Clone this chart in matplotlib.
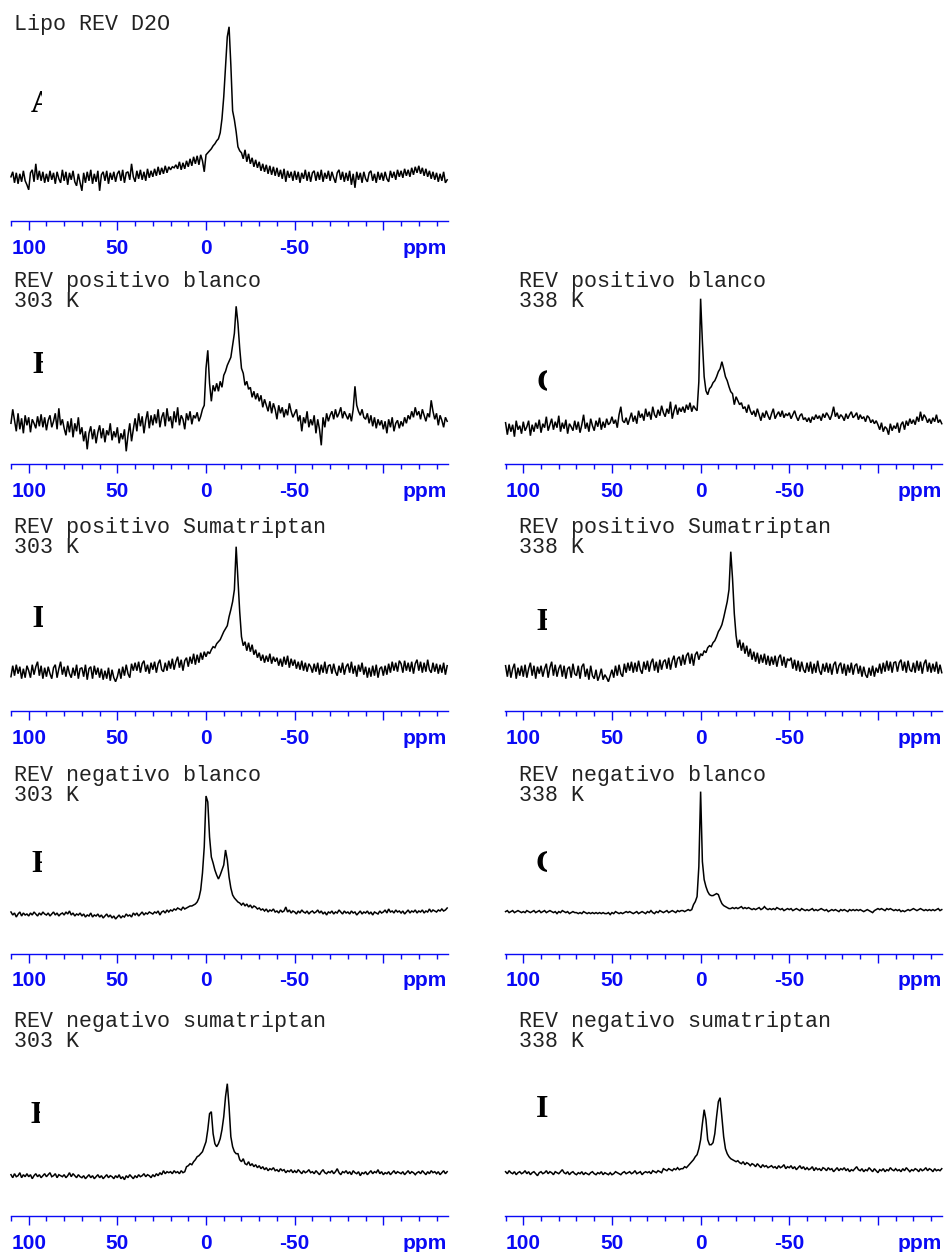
import numpy as np
import matplotlib
matplotlib.use("Agg")
import matplotlib.pyplot as plt
from matplotlib.transforms import Bbox

W, H, DPI = 944, 1252, 100

# ---------------- data (chemical shift grid, ppm) ----------------
ppm = np.arange(110, -137, -1)

spec_A = [
    0, 5, -6, 4, -7, 3, -5, 6, -4, -8,
    -13, 4, 7, -5, 13, -3, 6, -4, 5, -6,
    3, -5, 6, -3, 4, -7, 5, -2, -6, 7,
    -4, 5, -8, 4, -3, 6, -5, -9, 3, -6,
    -14, 4, -6, 5, -4, 7, -7, 3, -5, 6,
    -14, 2, 5, -4, 6, -7, 4, -3, 5, -5,
    3, 6, -4, 7, -6, 4, 5, -3, 13, 0,
    -5, 6, -2, 7, -3, 5, -4, 8, -1, 6,
    0, 8, 1, 10, 2, 9, 3, 11, 4, 10,
    7, 10, 9, 12, 8, 15, 7, 14, 8, 16,
    10, 18, 11, 20, 13, 21, 12, 22, 16, 5,
    22, 24, 26, 28, 31, 33, 36, 38, 44, 58,
    80, 110, 140, 150, 112, 66, 57, 45, 30, 26,
    24, 18, 27, 15, 23, 13, 19, 10, 17, 9,
    15, 6, 13, 5, 12, 3, 11, 2, 10, 1,
    9, 0, 7, -2, 8, -5, 6, -1, 5, -4,
    6, -3, 5, -6, 4, -2, 7, -4, 5, -5,
    4, 6, -4, 5, -3, 7, -5, 4, -2, 6,
    -4, 5, -1, -6, 4, 7, -3, 5, -5, 4,
    -4, 6, -8, 3, -11, 5, -3, 4, -6, 5,
    -2, -5, 4, 6, -4, 3, -6, 5, -3, 4,
    -4, 5, -2, -5, 6, -1, 5, -3, 7, 0,
    6, -1, 8, 1, 7, 0, 9, 2, 10, 4,
    11, 3, 9, 1, 8, 0, 6, -2, 5, -3,
    4, -5, 3, -4, 5, -6, -3]

spec_B = [
    0, 14, 3, -8, 10, -6, 5, -10, 8, -2,
    6, -9, 4, 0, -5, 7, -3, 9, -4, 6,
    -7, 3, 8, -4, 2, 10, -6, 15, -2, 4,
    -5, -12, 2, -9, 5, -14, 0, -8, 6, -11,
    -4, -18, -8, -26, -10, -3, -16, -6, -20, -9,
    -2, -15, -5, -19, -7, -12, 0, -17, -8, -14,
    -4, -20, -10, -16, -6, -28, -12, 0, -18, -6,
    5, -8, 10, -3, 7, -10, 3, 12, -5, 8,
    -2, 9, 0, 14, -4, 6, 11, -3, 15, 2,
    7, -5, 12, 1, 16, -2, 8, 4, -6, 10,
    3, 12, -1, 8, 5, 11, 2, 7, 14, 18,
    55, 73, 40, 22, 38, 32, 40, 32, 42, 36,
    48, 52, 58, 62, 66, 78, 90, 117, 100, 75,
    55, 50, 38, 42, 34, 36, 26, 32, 24, 30,
    22, 28, 16, 24, 18, 12, 22, 10, 20, 14,
    4, 18, 10, 16, 6, 14, 8, 20, 12, 6,
    10, 14, 2, 8, -8, 6, 0, 12, -4, 4,
    -2, 8, -10, 4, -6, -22, 6, -4, 10, 2,
    8, 12, 4, 14, 6, 10, 16, 5, 12, 8,
    4, 10, 2, 14, 37, 18, 12, 8, 14, 6,
    4, 10, 0, 8, -3, 6, -5, 4, -2, 3,
    -6, 2, -10, 4, -4, 6, -8, 0, 3, -5,
    2, -3, 6, 0, 8, 4, 12, 6, 16, 8,
    12, 4, 14, 8, 2, 10, 6, 23, 12, 4,
    10, -2, 8, 3, -4, 6, 2]

spec_C = [
    4, -8, 3, -5, 2, -10, 6, -3, 1, -7,
    5, -4, 0, 6, -9, 2, -5, 4, -2, 7,
    -6, 3, -1, 10, -4, 2, 8, -3, 5, -1,
    11, -5, 4, -2, 7, -7, 3, 0, -4, 6,
    -3, 5, -6, 2, 12, -2, 4, -5, 8, 1,
    -4, 6, 0, 9, -3, 5, -1, 8, 2, 4,
    10, 3, 7, -1, 12, 20, 6, 4, 9, 2,
    8, 14, 5, 11, 3, 16, 9, 13, 6, 18,
    10, 15, 7, 20, 12, 9, 17, 11, 21, 14,
    10, 18, 13, 25, 8, 16, 22, 12, 19, 15,
    20, 14, 22, 17, 24, 15, 21, 18, 16, 45,
    128, 85, 50, 36, 32, 38, 40, 44, 46, 50,
    55, 58, 65, 58, 50, 46, 40, 35, 33, 22,
    30, 26, 22, 24, 18, 20, 14, 22, 16, 12,
    16, 10, 18, 12, 6, 14, 9, 16, 11, 7,
    13, 18, 8, 12, 15, 10, 16, 9, 13, 11,
    14, 8, 12, 16, 10, 6, 11, 13, 7, 9,
    5, 9, 4, 10, 7, 12, 8, 11, 6, 13,
    9, 14, 11, 7, 12, 20, 10, 14, 8, 12,
    10, 6, 13, 8, 12, 15, 9, 11, 14, 7,
    12, 8, 10, 5, 11, 9, 4, 7, 3, 6,
    2, -3, 4, -5, 0, -2, -8, 3, -4, 1,
    -2, 4, -6, 2, 5, -3, 6, 1, 8, 3,
    7, 2, 10, 5, 15, 6, 12, 9, 4, 8,
    3, 9, 5, 12, 4, 7, 3]

spec_D = [
    -5, 6, -4, 7, -2, 5, -7, 3, -6, 6,
    1, -6, 7, -3, 5, 10, -4, 6, -7, 4,
    -5, 5, -2, -7, 4, 7, -6, 3, 10, -3,
    5, -5, 6, -2, -6, 4, -4, 7, -7, 3,
    4, -5, 7, -8, 3, 5, -7, 6, -3, 4,
    -6, 3, -8, 1, -7, 4, -9, 2, -6, -10,
    -5, 3, -7, 5, -4, 7, -2, -6, 8, 1,
    9, 1, 10, -1, 8, 11, 0, 7, -2, 9,
    2, 10, -1, 8, 12, 2, 0, 9, 1, 11,
    3, 13, 2, 10, 15, 4, 12, 1, 11, 14,
    5, 15, 8, 18, 7, 17, 9, 19, 12, 20,
    15, 20, 18, 22, 25, 24, 28, 30, 32, 36,
    40, 43, 46, 55, 62, 70, 82, 125, 92, 60,
    35, 26, 30, 21, 29, 20, 27, 17, 22, 14,
    19, 11, 17, 9, 16, 10, 18, 8, 15, 10,
    14, 6, 13, 5, 15, 7, 16, 4, 13, 6,
    12, 3, 10, 2, 11, 1, 9, 0, 8, 5,
    -1, 8, 0, 9, -3, 7, -1, 10, -2, 6,
    7, -2, 8, 0, -4, 6, -1, 9, -3, 5,
    8, -1, 10, -2, 6, -5, 7, 0, 9, -3,
    5, -6, 4, -5, 6, -4, 7, -6, 3, 5,
    -4, 6, -3, 8, -1, 10, 1, 9, 0, 11,
    8, -1, 11, 1, 9, 0, 10, -2, 8, 12,
    1, 10, -1, 9, 0, 12, 2, -1, 9, 0,
    8, -2, 7, -1, 9, -3, 6]

spec_E = [
    6, -5, 7, -6, 3, 8, -7, 4, -4, 6,
    -5, 7, -6, 3, 9, -4, 6, -7, 5, -2,
    6, -5, 3, 8, -6, 4, 10, -4, 7, -5,
    3, 7, -5, 6, -7, 3, 5, -6, 8, -2,
    -4, 6, -7, 5, 8, -5, 3, -8, 6, -4,
    -7, 2, -9, -4, 3, -8, -3, -6, -10, -4,
    2, -6, 6, -4, 7, -2, -5, 8, -1, 9,
    1, 10, -1, 9, 0, 11, 2, -2, 10, 2,
    11, 0, 9, 13, 1, 10, -1, 12, 2, 10,
    12, 3, 14, 2, 11, 16, 4, 13, 15, 6,
    17, 7, 16, 19, 8, 18, 6, 17, 20, 12,
    18, 16, 21, 19, 24, 26, 25, 29, 31, 35,
    40, 43, 47, 54, 62, 70, 82, 120, 93, 58,
    36, 24, 32, 21, 29, 18, 26, 15, 23, 12,
    20, 10, 19, 8, 17, 9, 18, 7, 16, 6,
    15, 7, 16, 5, 14, 17, 6, 15, 4, 13,
    11, 14, 3, 12, 1, 11, 0, 10, 2, -1,
    9, 0, 10, -2, 8, -1, 11, 1, -3, 8,
    0, 9, -1, 8, -3, 7, 10, -2, 6, 9,
    -2, 8, -4, 7, -1, 9, -3, 6, 8, -2,
    6, -5, 5, -3, -6, 4, -4, 6, -5, 4,
    -1, 8, -2, 9, 0, 11, 1, 10, -1, 9,
    10, 0, 9, 12, 1, 10, -1, 11, 2, 0,
    9, -1, 11, 1, 10, -2, 8, 12, 0, 9,
    -1, 8, 0, 10, -2, 7, -1]

spec_F = [
    2, -1, 1, -3, 0, 2, -2, 1, -1, 0,
    -2, 1, -1, 2, 0, -2, 1, -1, 2, 0,
    -1, 1, -2, 0, 2, -1, 1, -2, 0, 1,
    -1, 2, 0, 3, -1, 1, -2, 0, -1, 1,
    -2, 0, -3, -1, -2, 1, -3, -1, -2, 0,
    -3, -1, -4, -2, 0, -3, -1, -4, -2, -5,
    -3, -1, -4, -2, -3, 0, -2, -1, -3, 1,
    -1, 1, -2, 0, 2, -1, 1, 0, 2, 1,
    0, 2, 1, 3, -1, 2, 3, 1, 4, 2,
    4, 3, 5, 4, 6, 5, 4, 7, 5, 6,
    7, 8, 8, 9, 10, 12, 16, 24, 41, 67,
    118, 112, 77, 57, 51, 44, 39, 35, 39, 44,
    49, 64, 54, 37, 26, 19, 16, 14, 12, 11,
    9, 11, 8, 10, 7, 9, 6, 8, 7, 5,
    6, 4, 5, 3, 5, 2, 4, 3, 5, 2,
    3, 1, 4, 2, 3, 7, 2, 4, 1, 3,
    2, 0, 3, 1, 4, 2, 1, 3, 0, 2,
    3, 1, 2, 4, 1, 3, 0, 2, -1, 2,
    1, 3, 0, 2, 1, 4, 2, 0, 3, 1,
    2, 0, 3, 1, 2, -1, 1, 3, 0, 2,
    1, 3, 0, 2, -1, 2, 1, 0, 3, 1,
    2, 4, 1, 5, 2, 3, 1, 4, 2, 3,
    1, 3, 0, 2, 4, 1, 3, 2, 4, 1,
    3, 2, 4, 1, 3, 2, 5, 2, 4, 3,
    2, 4, 3, 5, 3, 4, 6]

spec_G = [
    0, 1, -1, 0, 1, -1, 0, 1, 0, -1,
    0, -1, 1, 0, -1, 0, 1, -1, 0, 1,
    -1, 0, 1, -1, 0, 1, 0, -1, 0, -2,
    0, -1, 1, 0, -1, 0, -2, -1, 0, -1,
    -1, -2, -1, -2, 0, -1, -2, -1, -2, -1,
    -2, -1, -2, -1, -2, -1, -2, -2, -1, -3,
    -1, -2, 0, -1, -2, -1, -2, -1, 0, -1,
    0, -1, -2, -1, 0, -2, -1, 0, -1, -2,
    0, -1, 1, -1, -2, 0, -1, 1, 0, -1,
    0, 1, -1, 0, 1, 0, -1, 1, 0, 1,
    1, 0, 1, 2, 1, 2, 7, 10, 15, 45,
    120, 50, 32, 25, 20, 17, 16, 16, 17, 18,
    17, 12, 8, 6, 5, 4, 3, 3, 4, 3,
    4, 3, 4, 5, 3, 4, 3, 4, 3, 2,
    3, 2, 3, 4, 2, 3, 5, 3, 2, 3,
    2, 3, 2, 4, 3, 2, 3, 1, 2, 3,
    2, 3, 1, 2, 3, 2, 1, 3, 2, 1,
    2, 1, 2, 3, 1, 2, 1, 2, 3, 2,
    1, 2, 0, 1, 2, 1, 2, 1, 0, 2,
    1, 2, 1, 0, 2, 1, 2, 1, 2, 1,
    2, 1, 0, 1, 2, 1, 0, -1, 1, 2,
    3, 2, 3, 2, 1, 3, 2, 3, 2, 1,
    2, 1, 2, 0, 1, 0, 1, 2, 1, 2,
    3, 2, 1, 2, 3, 2, 1, 2, 1, 2,
    1, 2, 1, 2, 3, 1, 2]

spec_H = [
    1, -2, 2, -1, 0, 3, -2, 1, -1, 2,
    -1, 1, -3, 0, 2, -1, 1, -2, 0, 2,
    -1, 1, 3, -1, 0, 2, -2, 1, 0, -1,
    1, -2, 0, 3, -1, 2, 0, -2, 1, -1,
    -2, 0, -3, -1, 1, -2, 0, -3, -1, 1,
    -2, 0, -3, -1, 1, -2, 0, -1, -3, 0,
    -2, 1, -3, -1, -4, 0, -2, 1, -1, -3,
    0, -2, 1, -1, 0, 2, -1, 1, 0, -2,
    1, -1, 2, 0, 3, 1, 5, 2, 4, 3,
    4, 2, 5, 3, 4, 2, 5, 3, 4, 9,
    10, 12, 11, 14, 16, 19, 20, 22, 24, 29,
    34, 46, 62, 64, 42, 32, 29, 32, 37, 46,
    59, 79, 92, 69, 39, 29, 24, 22, 22, 16,
    14, 17, 12, 11, 14, 10, 12, 9, 11, 8,
    10, 7, 9, 6, 8, 5, 7, 6, 8, 5,
    6, 4, 7, 5, 6, 3, 5, 4, 6, 3,
    5, 3, 6, 4, 2, 5, 3, 4, 6, 3,
    4, 2, 5, 3, 1, 4, 6, 3, 2, 4,
    3, 5, 2, 4, 7, 3, 1, 4, 3, 5,
    2, 4, 1, 5, 3, 2, 4, 0, 3, 2,
    4, 1, 3, 5, 2, 4, 3, 6, 2, 4,
    1, 3, 2, 4, 1, 3, 5, 2, 4, 3,
    2, 4, 1, 3, 5, 2, 4, 3, 1, 3,
    4, 2, 5, 3, 1, 4, 2, 5, 3, 4,
    2, 4, 1, 3, 5, 2, 4]

spec_I = [
    1, -1, 2, 0, -1, 1, -2, 0, 1, -1,
    0, 2, -1, 1, -2, 0, 1, -1, -3, 0,
    1, -1, 0, 2, -1, 1, 0, -2, 1, 0,
    -1, 1, 3, 0, -1, 1, -2, 0, 1, -1,
    -2, 0, -1, 1, -2, 0, -1, -2, 0, 1,
    -1, -2, 0, -1, 1, -2, 0, -1, -2, 0,
    -2, -1, 1, 0, -1, -2, 0, 1, -1, 0,
    1, -1, 0, 2, -1, 0, 1, -2, 0, 1,
    0, 1, -1, 2, 1, 0, 2, 1, 0, 4,
    3, 2, 4, 3, 2, 4, 3, 5, 3, 4,
    4, 6, 5, 7, 9, 11, 13, 16, 18, 24,
    33, 49, 63, 53, 33, 28, 28, 30, 39, 56,
    71, 75, 56, 36, 24, 19, 16, 14, 13, 12,
    11, 12, 10, 9, 11, 8, 10, 9, 7, 9,
    8, 6, 9, 7, 5, 8, 6, 7, 5, 6,
    7, 5, 6, 4, 7, 5, 6, 8, 4, 6,
    5, 7, 4, 6, 3, 5, 7, 4, 6, 3,
    5, 3, 4, 6, 2, 5, 3, 4, 2, 5,
    4, 2, 5, 3, 4, 1, 3, 5, 2, 4,
    3, 5, 2, 4, 1, 3, 2, 4, 6, 3,
    2, 4, 1, 3, 2, 5, 3, 1, 4, 2,
    0, 3, 2, 4, 1, 3, 2, 5, 3, 2,
    4, 2, 3, 1, 4, 2, 5, 3, 1, 3,
    2, 4, 3, 1, 4, 2, 3, 5, 2, 4,
    3, 1, 4, 2, 3, 2, 4]

titles = {
    "A": ["Lipo REV D2O"],
    "B": ["REV positivo blanco", "303 K"],
    "C": ["REV positivo blanco", "338 K"],
    "D": ["REV positivo Sumatriptan", "303 K"],
    "E": ["REV positivo Sumatriptan", "338 K"],
    "F": ["REV negativo blanco", "303 K"],
    "G": ["REV negativo blanco", "338 K"],
    "H": ["REV negativo sumatriptan", "303 K"],
    "I": ["REV negativo sumatriptan", "338 K"],
}
spectra = {"A": spec_A, "B": spec_B, "C": spec_C, "D": spec_D, "E": spec_E,
           "F": spec_F, "G": spec_G, "H": spec_H, "I": spec_I}

major_ticks = [100, 50, 0, -50, -100]
major_labels = ["100", "50", "0", "-50", ""]
minor_ticks = [110, 90, 80, 70, 60, 40, 30, 20, 10, -10, -20, -30, -40,
               -60, -70, -80, -90, -110, -120, -130]
axis_unit = "ppm"

# ---------------- layout (pixel positions) ----------------
# key: (column, axis line y, baseline height above axis, title baseline y,
#       letter x, letter baseline y, letter clip x)
layout = {
    "A": (0, 221.3, 44.5, 30.0, 30.5, 111.7, 42.0),
    "B": (0, 464.3, 41.0, 286.7, 32.0, 373.0, 43.3),
    "C": (1, 464.3, 37.6, 286.7, 536.5, 391.0, 547.0),
    "D": (0, 711.3, 39.6, 533.3, 32.2, 627.3, 43.3),
    "E": (1, 711.3, 39.6, 533.3, 536.2, 630.0, 546.7),
    "F": (0, 953.6, 39.6, 780.7, 31.2, 871.7, 41.7),
    "G": (1, 953.6, 42.0, 780.7, 535.5, 871.7, 546.7),
    "H": (0, 1216.0, 40.3, 1027.3, 30.2, 1123.3, 39.8),
    "I": (1, 1216.0, 43.3, 1027.3, 536.2, 1116.7, 547.7),
}
col_left = [10.7, 505.3]
col_title_x = [14.0, 519.0]
AX_W, AX_H = 437.0, 215.0
BLUE = "#0A0AF5"
MAJ_LEN, MIN_LEN, PAD = 6.6, 3.3, 6.2

fig = plt.figure(figsize=(W / DPI, H / DPI), dpi=DPI)
fig.patch.set_facecolor("white")

for key, (col, ay, base, ty, lx, ly, clipx) in layout.items():
    ax = fig.add_axes([col_left[col] / W, (H - ay) / H, AX_W / W, AX_H / H])
    ax.patch.set_visible(False)
    ax.plot(ppm, spectra[key], color="black", lw=1.1, clip_on=False,
            solid_joinstyle="miter")
    ax.set_xlim(110.15, -136.3)
    ax.set_ylim(-base, AX_H - base)
    for s in ["top", "left", "right"]:
        ax.spines[s].set_visible(False)
    ax.spines["bottom"].set_color(BLUE)
    ax.spines["bottom"].set_linewidth(1.0)
    ax.set_yticks([])
    ax.set_xticks(major_ticks)
    ax.set_xticklabels(major_labels)
    ax.set_xticks(minor_ticks, minor=True)
    ax.tick_params(axis="x", which="major", length=MAJ_LEN, width=1.0,
                   color=BLUE, pad=PAD, labelsize=15, labelcolor=BLUE)
    ax.tick_params(axis="x", which="minor", length=MIN_LEN, width=1.0,
                   color=BLUE)
    for lab in ax.get_xticklabels():
        lab.set_fontfamily("Liberation Sans")
        lab.set_fontweight("bold")
    ax.annotate(axis_unit, xy=(1, 0), xycoords="axes fraction",
                xytext=(-0.5, -(MAJ_LEN + PAD)), textcoords="offset points",
                ha="right", va="top", color=BLUE, fontsize=15,
                fontfamily="Liberation Sans", fontweight="bold")

    # titles
    for i, line in enumerate(titles[key]):
        fig.text(col_title_x[col] / W, (H - ty - 20.0 * i) / H, line,
                 fontfamily="Liberation Mono", fontsize=15.6, color="#222222",
                 ha="left", va="baseline")

    # clipped panel letter
    t = fig.text(lx / W, (H - ly) / H, key, fontfamily="Liberation Serif",
                 fontweight="bold", fontsize=23, color="black",
                 ha="left", va="baseline")
    x0 = 0 if col == 0 else 495
    t.set_clip_box(Bbox([[x0, 0], [clipx, H]]))
    t.set_clip_on(True)

fig.savefig("out.png", dpi=DPI)
